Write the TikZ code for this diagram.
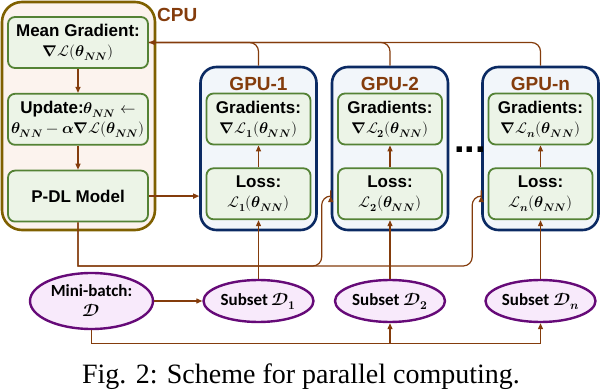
\documentclass[tikz,border=0pt]{standalone}
\usepackage{amsmath}
\usepackage{fontspec}
\usepackage{unicode-math}
\setmainfont{Liberation Serif}
\setmathfont{Latin Modern Math}
\newfontfamily\arialfont{Liberation Sans}
\newfontfamily\calibrifont{Carlito}
\usepackage{xcolor}
\usepackage{tikz}
\usetikzlibrary{arrows.meta, positioning, calc, shapes.geometric}

\definecolor{brn}{HTML}{843C0C}
\definecolor{cpuline}{HTML}{7F6000}
\definecolor{cpufill}{HTML}{FCF3EE}
\definecolor{boxline}{HTML}{548235}
\definecolor{boxfill}{HTML}{ECF4E7}
\definecolor{gpuline}{HTML}{0B2A63}
\definecolor{gpufill}{HTML}{F2F6FA}
\definecolor{dataline}{HTML}{660A78}
\definecolor{datafill}{HTML}{F8EAFB}

\newcommand{\thNN}{\symbfit{\theta}_{\symbfit{NN}}}
\newcommand{\gradL}{\symbfup{\nabla}\mathcal{L}}
\newcommand{\mth}[1]{{\fontsize{15.5}{20}\selectfont$#1$}}

\begin{document}
\begin{tikzpicture}[x=1pt, y=-1pt,
    cpubox/.style={rectangle, draw=cpuline, fill=cpufill, line width=2.6pt, rounded corners=20pt,
        minimum width=153pt, minimum height=228pt},
    gpubox/.style={rectangle, draw=gpuline, fill=gpufill, line width=2.6pt, rounded corners=16pt,
        minimum width=116pt, minimum height=163pt},
    box/.style={rectangle, draw=boxline, fill=boxfill, line width=1.8pt, rounded corners=7pt,
        minimum width=140pt, minimum height=51pt, align=center, inner sep=1pt,
        font=\arialfont\bfseries\fontsize{17}{20}\selectfont},
    gbox/.style={box, minimum width=104pt},
    data/.style={ellipse, draw=dataline, fill=datafill, line width=2.4pt, inner sep=0pt, align=center,
        font=\calibrifont\bfseries\fontsize{17}{20}\selectfont},
    arr/.style={-{Triangle[length=6pt, width=5pt]}, line width=1.2pt, brn},
    wire/.style={line width=1.2pt, brn},
    unit/.style={font=\arialfont\bfseries\fontsize{19}{22}\selectfont, text=brn, inner sep=0pt}
]
    \useasboundingbox (0,0) rectangle (600,390);
    \node[cpubox] (cpu) at (78.5,116) {};
    \node[unit, anchor=west] (cpulbl) at (157,15) {CPU};
    \node[box] (mg) at (78,42.5) {Mean Gradient:\\ \mth{\gradL(\thNN)}};
    \node[box, below=24pt of mg] (upd) {Update:\mth{\thNN \leftarrow}\\ \mth{\thNN - \symbfit{\alpha}\gradL(\thNN)}};
    \node[box, below=24pt of upd] (pdl) {P-DL Model};

    \node[gpubox] (gpu1) at (258.5,148.5) {};
    \node[unit] (gpu1lbl) at (258.5,84) {GPU-1};
    \node[gbox] (grad1) at (258.5,119) {Gradients:\\ \mth{\symbfup{\nabla}\mathcal{L}_{\symbf{1}}(\thNN)}};
    \node[gbox, below=22pt of grad1] (loss1) {Loss:\\ \mth{\mathcal{L}_{\symbf{1}}(\thNN)}};

    \node[gpubox] (gpu2) at (390,148.5) {};
    \node[unit] (gpu2lbl) at (390,84) {GPU-2};
    \node[gbox] (grad2) at (390,119) {Gradients:\\ \mth{\symbfup{\nabla}\mathcal{L}_{\symbf{2}}(\thNN)}};
    \node[gbox, below=22pt of grad2] (loss2) {Loss:\\ \mth{\mathcal{L}_{\symbf{2}}(\thNN)}};

    \node[gpubox] (gpun) at (540.5,148.5) {};
    \node[unit] (gpunlbl) at (540.5,84) {GPU-n};
    \node[gbox] (gradn) at (540.5,119) {Gradients:\\ \mth{\symbfup{\nabla}\mathcal{L}_{\symbfit{n}}(\thNN)}};
    \node[gbox, below=22pt of gradn] (lossn) {Loss:\\ \mth{\mathcal{L}_{\symbfit{n}}(\thNN)}};

    \node[font=\arialfont\bfseries\fontsize{38}{38}\selectfont, anchor=base, inner sep=0pt] (dots) at (470,153) {...};

    \node[data, minimum width=123pt, minimum height=56pt] (mb) at (91.5,301) {Mini-batch:\\ $\symbfscr{D}$};
    \node[data, minimum width=110pt, minimum height=42pt] (d1) at (258.5,301) {Subset $\symbfscr{D}_{\symbf{1}}$};
    \node[data, minimum width=110pt, minimum height=42pt] (d2) at (390,301) {Subset $\symbfscr{D}_{\symbf{2}}$};
    \node[data, minimum width=110pt, minimum height=42pt] (dn) at (540.5,301) {Subset $\symbfscr{D}_{\symbfit{n}}$};

    \draw[arr] (mg) -- (upd);
    \draw[arr] (upd) -- (pdl);
    \draw[arr] (pdl.east) -- (pdl.east -| gpu1.west);
    \draw[arr] (loss1) -- (grad1);
    \draw[arr] (loss2) -- (grad2);
    \draw[arr] (lossn) -- (gradn);
    \draw[wire, rounded corners=9pt] (gpu1.north) |- (mg.east);
    \draw[wire, rounded corners=9pt] (gpu2.north) |- (mg.east);
    \draw[arr, rounded corners=9pt] (gpun.north) |- (mg.east);

    \coordinate (bus) at (0,266);
    \draw[arr] (pdl.south) -- (pdl.south |- bus) [rounded corners=9pt]
        -- ($(gpu2.west |- bus)+(-9,0)$) |- (gpu2.west |- pdl.east);
    \draw[arr] (pdl.south) -- (pdl.south |- bus) [rounded corners=9pt]
        -- ($(gpun.west |- bus)+(-9,0)$) |- (gpun.west |- pdl.east);

    \draw[arr] (d1) -- (loss1);
    \draw[arr] (d2) -- (loss2);
    \draw[arr] (dn) -- (lossn);
    \draw[arr] (mb) -- (d1);
    \draw[arr] (mb.south) -- ++(0,13) -| (d2.south);
    \draw[arr] (mb.south) -- ++(0,13) -| (dn.south);

    \node[font=\fontsize{28}{32}\selectfont, anchor=base] (cap) at (301,383) {Fig. 2: Scheme for parallel computing.};
\end{tikzpicture}
\end{document}
